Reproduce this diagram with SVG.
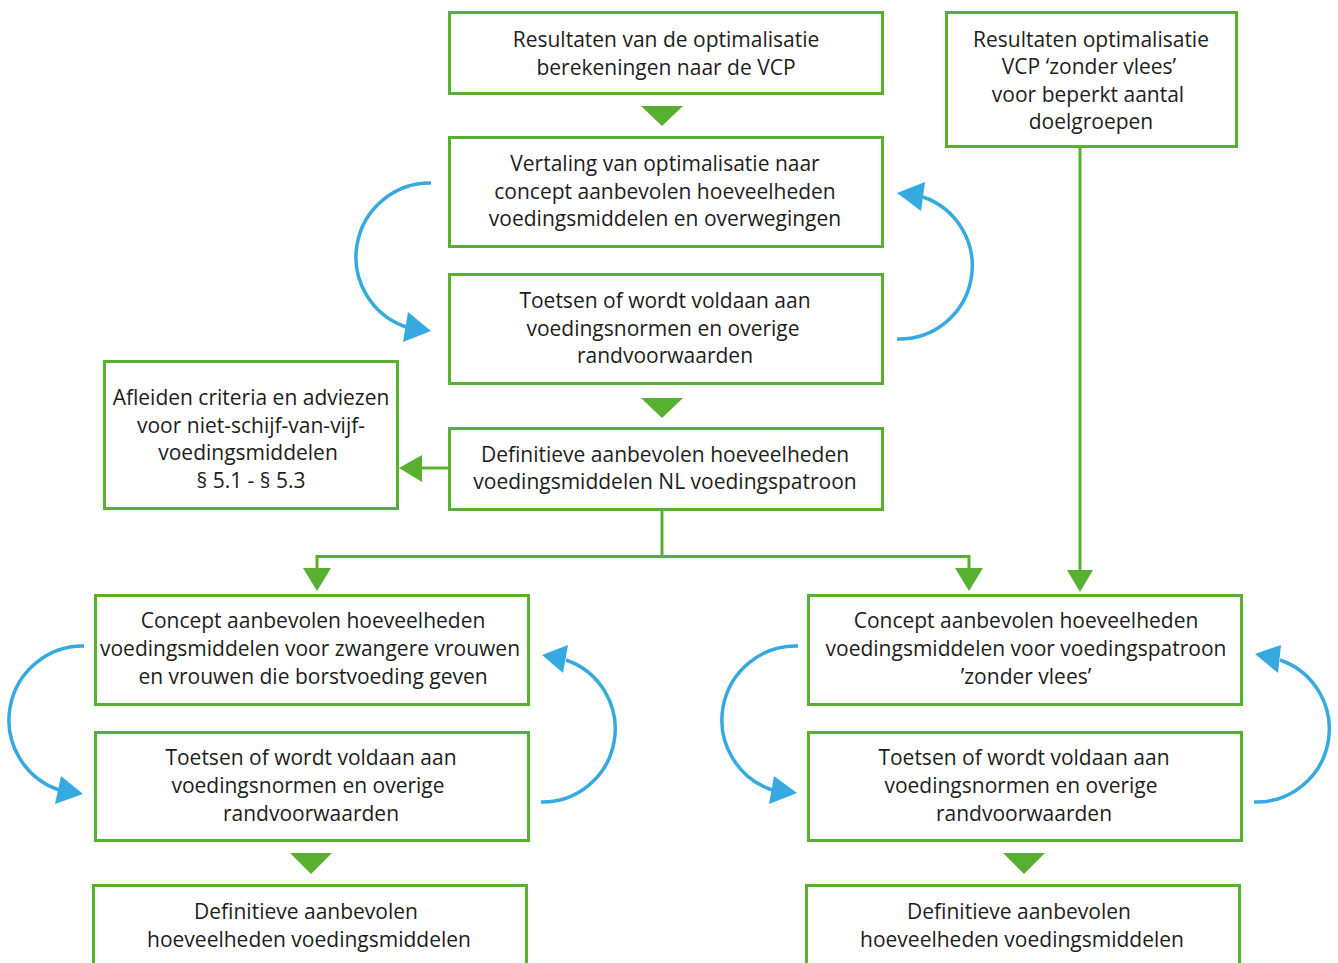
<svg xmlns="http://www.w3.org/2000/svg" width="1338" height="963" viewBox="0 0 1338 963">
<style>
.box{fill:#fff;stroke:#58b031;stroke-width:3}
.t{font-family:"Open Sans","Liberation Sans",sans-serif;font-size:21px;fill:#1d1d1b;text-anchor:middle}
.ln{fill:none;stroke:#58b031;stroke-width:3}
.gh{fill:#58b031}
.arc{fill:none;stroke:#36a9e1;stroke-width:3.5}
.bh{fill:#36a9e1}
</style>
<rect width="1338" height="963" fill="#fff"/>
<g id="connectors">
<polygon class="gh" points="641,106 683,106 662,126"/>
<polygon class="gh" points="641,398 683,398 662,418"/>
<line class="ln" x1="448" y1="468" x2="420" y2="468"/>
<polygon class="gh" points="399,468 422,455 422,482"/>
<line class="ln" x1="1080" y1="148" x2="1080" y2="572"/>
<polygon class="gh" points="1067,570 1093,570 1080,592"/>
<polyline class="ln" points="662,510 662,556.5"/>
<polyline class="ln" points="317,571 317,556.5 969,556.5 969,571"/>
<polygon class="gh" points="303,568 331,568 317,591"/>
<polygon class="gh" points="955,568 983,568 969,591"/>
<polygon class="gh" points="290,853 332,853 311,874"/>
<polygon class="gh" points="1003,853 1045,853 1024,874"/>
<path class="arc" d="M431 183 A74 74 0 0 0 406 327"/>
<polygon class="bh" points="431,331 408,312 403,342"/>
<path class="arc" d="M897 339 A73 73 0 0 0 923 197"/>
<polygon class="bh" points="897,193 925,182 921,211"/>
<path class="arc" d="M84 646 A74 74 0 0 0 59 790"/>
<polygon class="bh" points="83,794 61,776 55,804"/>
<path class="arc" d="M541 802 A73 73 0 0 0 566 660"/>
<polygon class="bh" points="542,655 568,645 563,673"/>
<path class="arc" d="M798 646 A74 74 0 0 0 772 790"/>
<polygon class="bh" points="797,793 774,776 769,804"/>
<path class="arc" d="M1254 802 A73 73 0 0 0 1280 660"/>
<polygon class="bh" points="1255,654 1281,645 1278,673"/>
</g>
<g id="n1"><rect class="box" x="449.5" y="12.5" width="433" height="81"/>
<text class="t" x="666" y="47">Resultaten van de optimalisatie</text>
<text class="t" x="666" y="75">berekeningen naar de VCP</text></g>
<g id="n2"><rect class="box" x="449.5" y="137.5" width="433" height="109"/>
<text class="t" x="665" y="171">Vertaling van optimalisatie naar</text>
<text class="t" x="665" y="199">concept aanbevolen hoeveelheden</text>
<text class="t" x="665" y="226">voedingsmiddelen en overwegingen</text></g>
<g id="n3"><rect class="box" x="449.5" y="274.5" width="433" height="109"/>
<text class="t" x="665" y="308">Toetsen of wordt voldaan aan</text>
<text class="t" x="663" y="336">voedingsnormen en overige</text>
<text class="t" x="665" y="363">randvoorwaarden</text></g>
<g id="n4"><rect class="box" x="449.5" y="428.5" width="433" height="81"/>
<text class="t" x="665" y="462">Definitieve aanbevolen hoeveelheden</text>
<text class="t" x="665" y="489">voedingsmiddelen NL voedingspatroon</text></g>
<g id="n5"><rect class="box" x="104.5" y="361.5" width="293" height="147"/>
<text class="t" x="251" y="405">Afleiden criteria en adviezen</text>
<text class="t" x="251" y="433">voor niet-schijf-van-vijf-</text>
<text class="t" x="248" y="460">voedingsmiddelen</text>
<text class="t" x="251" y="488">§ 5.1 - § 5.3</text></g>
<g id="n6"><rect class="box" x="946.5" y="12.5" width="290" height="134"/>
<text class="t" x="1091" y="47">Resultaten optimalisatie</text>
<text class="t" x="1089" y="74">VCP ‘zonder vlees’</text>
<text class="t" x="1088" y="102">voor beperkt aantal</text>
<text class="t" x="1091" y="129">doelgroepen</text></g>
<g id="n7"><rect class="box" x="95.5" y="595.5" width="433" height="109"/>
<text class="t" x="313" y="628">Concept aanbevolen hoeveelheden</text>
<text class="t" x="310" y="656">voedingsmiddelen voor zwangere vrouwen</text>
<text class="t" x="313" y="684">en vrouwen die borstvoeding geven</text></g>
<g id="n8"><rect class="box" x="95.5" y="732.5" width="433" height="108"/>
<text class="t" x="311" y="765">Toetsen of wordt voldaan aan</text>
<text class="t" x="308" y="793">voedingsnormen en overige</text>
<text class="t" x="311" y="821">randvoorwaarden</text></g>
<g id="n9"><rect class="box" x="93.5" y="885.5" width="433" height="90"/>
<text class="t" x="306" y="919">Definitieve aanbevolen</text>
<text class="t" x="309" y="947">hoeveelheden voedingsmiddelen</text></g>
<g id="n10"><rect class="box" x="808.5" y="595.5" width="433" height="109"/>
<text class="t" x="1026" y="628">Concept aanbevolen hoeveelheden</text>
<text class="t" x="1026" y="656">voedingsmiddelen voor voedingspatroon</text>
<text class="t" x="1026" y="684">’zonder vlees’</text></g>
<g id="n11"><rect class="box" x="808.5" y="732.5" width="433" height="108"/>
<text class="t" x="1024" y="765">Toetsen of wordt voldaan aan</text>
<text class="t" x="1021" y="793">voedingsnormen en overige</text>
<text class="t" x="1024" y="821">randvoorwaarden</text></g>
<g id="n12"><rect class="box" x="806.5" y="885.5" width="433" height="90"/>
<text class="t" x="1019" y="919">Definitieve aanbevolen</text>
<text class="t" x="1022" y="947">hoeveelheden voedingsmiddelen</text></g>
</svg>
